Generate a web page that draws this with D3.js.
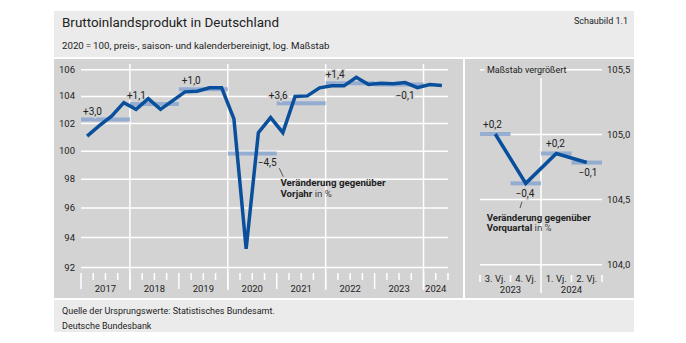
<!DOCTYPE html>
<html><head>
<meta charset="utf-8">
<title>Bruttoinlandsprodukt in Deutschland</title>
<script src="https://cdnjs.cloudflare.com/ajax/libs/d3/7.8.5/d3.min.js"></script>
<style>
body { margin: 0; background: #fff; }
svg text { font-family: Roboto, 'Noto Sans', sans-serif; fill: #222; }
</style>
</head>
<body>
<svg id="chart" width="686" height="343"></svg>
<script>
// --- data ---
const years = ["2017", "2018", "2019", "2020", "2021", "2022", "2023", "2024"];
// quarterly GDP index, 2017 Q1 .. 2024 Q2
const gdp = [
  101.05, 101.8, 102.5, 103.5,
  103.0, 103.8, 103.0, 103.65,
  104.3, 104.35, 104.6, 104.6,
  102.3, 93.2, 101.3, 102.4,
  101.3, 103.95, 104.0, 104.6,
  104.75, 104.75, 105.4, 104.85,
  104.95, 104.9, 105.0, 104.62,
  104.85, 104.78
];
const annualLevel = [102.25, 103.4, 104.5, 99.8, 103.45, 104.95, 104.85];
const annualChange = ["+3,0", "+1,1", "+1,0", "\u22124,5", "+3,6", "+1,4", "\u22120,1"];
const yTicks = [92, 94, 96, 98, 100, 102, 104, 106];

const zoomQuarters = ["3. Vj.", "4. Vj.", "1. Vj.", "2. Vj."];
const zoomYears = ["2023", "2024"];
const zoomTicks = [104.0, 104.5, 105.0, 105.5];
const quarterChange = ["+0,2", "\u22120,4", "+0,2", "\u22120,1"];

const panelCol = "#d3d3d3", boxCol = "#ebebeb", lineCol = "#0a4f9b", barCol = "#8ea8d0";
const svg = d3.select("#chart");

// frame
svg.append("rect").attr("x", 54).attr("y", 11).attr("width", 580).attr("height", 46).attr("fill", boxCol);
svg.append("rect").attr("x", 54).attr("y", 300).attr("width", 580).attr("height", 32).attr("fill", boxCol);
svg.append("rect").attr("x", 54).attr("y", 59).attr("width", 409).attr("height", 239).attr("fill", panelCol);
svg.append("rect").attr("x", 465).attr("y", 59).attr("width", 169).attr("height", 239).attr("fill", panelCol);

svg.append("text").attr("x", 62).attr("y", 27).attr("font-size", 13.4).text("Bruttoinlandsprodukt in Deutschland");
svg.append("text").attr("x", 62).attr("y", 48.5).attr("font-size", 9.7)
  .text("2020\u2009=\u2009100, preis-, saison- und kalenderbereinigt, log. Ma\u00dfstab");
svg.append("text").attr("x", 628).attr("y", 24).attr("font-size", 9).attr("text-anchor", "end").text("Schaubild 1.1");
svg.append("text").attr("x", 62).attr("y", 314).attr("font-size", 9).text("Quelle der Ursprungswerte: Statistisches Bundesamt.");
svg.append("text").attr("x", 62).attr("y", 329).attr("font-size", 9).text("Deutsche Bundesbank");

// ---------------- main panel ----------------
const nQ = gdp.length;
const x = d3.scaleLinear().domain([0, nQ]).range([81, 448]);
const y = d3.scaleLog().domain([92, 106]).range([267, 69.3]);

const yAx = svg.append("g").attr("transform", "translate(81,0)")
  .call(d3.axisLeft(y).tickValues(yTicks).tickFormat(d3.format("d")).tickSize(-(448 - 81)).tickPadding(6));
yAx.select(".domain").remove();
yAx.selectAll("line").attr("stroke", "#fff").attr("stroke-width", 1.5);
yAx.selectAll("text").attr("font-size", 9.5).attr("fill", "#333").style("font-family", "Roboto, sans-serif");

// vertical grid every second year
svg.append("g").selectAll("line").data([4, 12, 20, 28]).join("line")
  .attr("x1", d => x(d)).attr("x2", d => x(d)).attr("y1", 64).attr("y2", 290)
  .attr("stroke", "#fff").attr("stroke-width", 1.5);

// quarter ticks
svg.append("g").selectAll("line").data(d3.range(0, nQ + 1)).join("line")
  .attr("x1", d => x(d)).attr("x2", d => x(d)).attr("y1", 273)
  .attr("y2", d => d % 4 === 0 && d < nQ ? 289 : 280)
  .attr("stroke", "#fff").attr("stroke-width", 1.5);

svg.append("g").selectAll("text").data(years).join("text")
  .attr("x", (d, i) => x(4 * i + Math.min(4, nQ - 4 * i) / 2))
  .attr("y", 292).attr("text-anchor", "middle").attr("font-size", 9.5).attr("fill", "#333").text(d => d);

// annual average bars
svg.append("g").selectAll("line").data(annualLevel).join("line")
  .attr("x1", (d, i) => x(4 * i)).attr("x2", (d, i) => x(4 * i + 4))
  .attr("y1", d => y(d)).attr("y2", d => y(d))
  .attr("stroke", barCol).attr("stroke-width", 4).attr("opacity", 0.9);

// label offsets (layout only)
const annualLab = [[2, -5, "start"], [-3, -5, "start"], [3, -5, "start"], [0, 13, "end"],
                   [-8, -4, "start"], [0, -5, "start"], [21, 14, "start"]];
svg.append("g").selectAll("text").data(annualChange).join("text")
  .attr("x", (d, i) => (annualLab[i][2] === "end" ? x(4 * i + 4) : x(4 * i)) + annualLab[i][0])
  .attr("y", (d, i) => y(annualLevel[i]) + annualLab[i][1])
  .attr("text-anchor", (d, i) => annualLab[i][2])
  .attr("font-size", 10).attr("fill", "#222")
  .attr("stroke", panelCol).attr("stroke-width", 3).attr("paint-order", "stroke")
  .text(d => d);

const line = d3.line().x((d, i) => x(i + 0.5)).y(d => y(d));
svg.append("path").datum(gdp).attr("d", line).attr("fill", "none")
  .attr("stroke", lineCol).attr("stroke-width", 3.5).attr("stroke-linejoin", "miter");

// annotation
svg.append("line").attr("x1", 279.3).attr("y1", 168.3).attr("x2", 283.3).attr("y2", 176.7)
  .attr("stroke", "#333").attr("stroke-width", 0.8);
svg.append("text").attr("x", 280.5).attr("y", 185.5).attr("font-size", 9.7).attr("font-weight", "bold")
  .text("Ver\u00e4nderung gegen\u00fcber");
const a1 = svg.append("text").attr("x", 280.5).attr("y", 196.5).attr("font-size", 9.7);
a1.append("tspan").attr("font-weight", "bold").text("Vorjahr");
a1.append("tspan").attr("fill", "#444").text(" in %");

// ---------------- zoomed panel ----------------
const xz = d3.scaleLinear().domain([0, 4]).range([480, 602]);
const yz = d3.scaleLog().domain([104.0, 105.5]).range([264.3, 69.3]);
const last = gdp.slice(-4);

const zAx = svg.append("g").attr("transform", "translate(602,0)")
  .call(d3.axisRight(yz).tickValues(zoomTicks).tickFormat(d => d3.format(".1f")(d).replace(".", ","))
    .tickSize(-(602 - 480)).tickPadding(5));
zAx.select(".domain").remove();
zAx.selectAll("line").attr("stroke", "#fff").attr("stroke-width", 1.5);
zAx.selectAll("text").attr("font-size", 9.5).attr("fill", "#333").style("font-family", "Roboto, sans-serif");

svg.append("line").attr("x1", xz(2)).attr("x2", xz(2)).attr("y1", 78).attr("y2", 293)
  .attr("stroke", "#fff").attr("stroke-width", 1.5);
svg.append("rect").attr("x", 484.5).attr("y", 63).attr("width", 81).attr("height", 12).attr("fill", panelCol);
svg.append("text").attr("x", 487).attr("y", 72.5).attr("font-size", 9).attr("fill", "#333").text("Ma\u00dfstab vergr\u00f6\u00dfert");

svg.append("g").selectAll("line").data([0, 1, 3, 4]).join("line")
  .attr("x1", d => xz(d)).attr("x2", d => xz(d)).attr("y1", 275).attr("y2", 282)
  .attr("stroke", "#fff").attr("stroke-width", 1.5);
svg.append("g").selectAll("text").data(zoomQuarters).join("text")
  .attr("x", (d, i) => xz(i + 0.5)).attr("y", 282).attr("text-anchor", "middle")
  .attr("font-size", 9.5).attr("fill", "#333").text(d => d);
svg.append("g").selectAll("text").data(zoomYears).join("text")
  .attr("x", (d, i) => xz(2 * i + 1)).attr("y", 292.5).attr("text-anchor", "middle")
  .attr("font-size", 9.5).attr("fill", "#333").text(d => d);

svg.append("g").selectAll("line").data(last).join("line")
  .attr("x1", (d, i) => xz(i)).attr("x2", (d, i) => xz(i + 1))
  .attr("y1", d => yz(d)).attr("y2", d => yz(d))
  .attr("stroke", barCol).attr("stroke-width", 4).attr("opacity", 0.9);

const qLab = [[3, -5.5, "start"], [5, 13.5, "start"], [5, -6, "start"], [7, 13, "start"]];
svg.append("g").selectAll("text").data(quarterChange).join("text")
  .attr("x", (d, i) => xz(i) + qLab[i][0])
  .attr("y", (d, i) => yz(last[i]) + qLab[i][1])
  .attr("text-anchor", (d, i) => qLab[i][2])
  .attr("font-size", 10).attr("fill", "#222")
  .attr("stroke", panelCol).attr("stroke-width", 3).attr("paint-order", "stroke")
  .text(d => d);

const zline = d3.line().x((d, i) => xz(i + 0.5)).y(d => yz(d));
svg.append("path").datum(last).attr("d", zline).attr("fill", "none")
  .attr("stroke", lineCol).attr("stroke-width", 3.5).attr("stroke-linejoin", "miter");

svg.append("line").attr("x1", 522).attr("y1", 201.7).attr("x2", 520).attr("y2", 208)
  .attr("stroke", "#333").attr("stroke-width", 0.8);
svg.append("text").attr("x", 486.7).attr("y", 221).attr("font-size", 9.6).attr("font-weight", "bold")
  .text("Ver\u00e4nderung gegen\u00fcber");
const a2 = svg.append("text").attr("x", 486.7).attr("y", 231).attr("font-size", 9.6);
a2.append("tspan").attr("font-weight", "bold").text("Vorquartal");
a2.append("tspan").attr("fill", "#444").text(" in %");
</script>
</body>
</html>
